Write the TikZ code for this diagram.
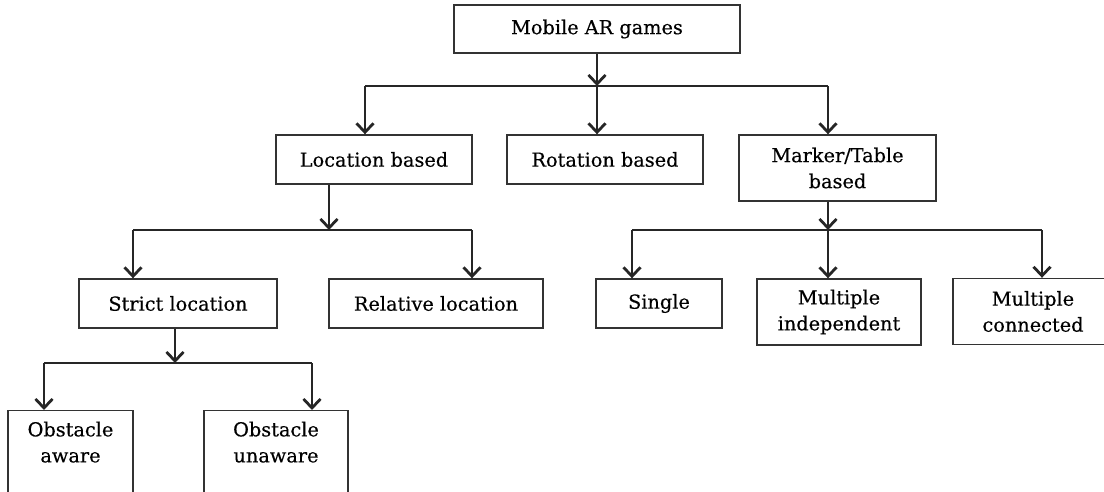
\documentclass[tikz,border=0pt]{standalone}
\usepackage{fontspec}
\setmainfont[FakeBold=0.4]{DejaVu Serif}
\usetikzlibrary{arrows.meta}
\begin{document}
\begin{tikzpicture}[x=1pt,y=-1pt,
  box/.style={draw=black!80, line width=1.4pt, inner sep=0pt, align=center,
    font=\fontsize{19.3}{26}\selectfont},
  link/.style={draw=black!85, line width=1.3pt},
  arr/.style={link, -{Straight Barb[length=9pt,width=17pt,line width=2.8pt]}}]
\useasboundingbox (0,0) rectangle (1104,491);

% level 0
\node[box, minimum width=286pt, minimum height=48pt] (root) at (597,29) {Mobile AR games};

% level 1
\node[box, minimum width=196pt, minimum height=49pt] (loc)  at (374,159.5) {Location based};
\node[box, minimum width=196pt, minimum height=49pt] (rot)  at (605,159.5) {Rotation based};
\node[box, minimum width=197pt, minimum height=66pt] (mark) at (837.5,168) {Marker/Table\\based};

% level 2
\node[box, minimum width=198pt, minimum height=49pt] (strict) at (178,303.5) {Strict location};
\node[box, minimum width=214pt, minimum height=49pt] (rel)    at (436,303.5) {Relative location};
\node[box, minimum width=126pt, minimum height=49pt] (single) at (659,303.5) {Single};
\node[box, minimum width=164pt, minimum height=66pt] (mind)   at (839,312) {Multiple\\independent};
\node[box, minimum width=160pt, minimum height=66pt] (mconn)  at (1033,311.5) {Multiple\\connected};

% level 3 (boxes run past the lower edge, text sits at the top)
\node[box, anchor=north, minimum width=125pt, text depth=62pt, inner ysep=11pt] (oaware)   at (70.5,410) {Obstacle\\aware};
\node[box, anchor=north, minimum width=144pt, text depth=62pt, inner ysep=11pt] (ounaware) at (276,410) {Obstacle\\unaware};

% junction points
\coordinate (j0) at (597,86);
\coordinate (j0l) at (365,86);
\coordinate (j0r) at (828,86);
\coordinate (j1) at (329,230);
\coordinate (j1l) at (133,230);
\coordinate (j1r) at (472,230);
\coordinate (j2) at (175,363);
\coordinate (j2l) at (44,363);
\coordinate (j2r) at (312,363);
\coordinate (j3) at (828,230);
\coordinate (j3l) at (632,230);
\coordinate (j3r) at (1042,230);

% root -> level 1
\draw[arr] (root.south) -- (j0);
\draw[link] (j0l) -- (j0r);
\draw[arr] (j0l) -- (j0l |- loc.north);
\draw[arr] (j0) -- (j0 |- rot.north);
\draw[arr] (j0r) -- (j0r |- mark.north);

% location based -> level 2
\draw[arr] (j1 |- loc.south) -- (j1);
\draw[link] (j1l) -- (j1r);
\draw[arr] (j1l) -- (j1l |- strict.north);
\draw[arr] (j1r) -- (j1r |- rel.north);

% strict location -> level 3
\draw[arr] (j2 |- strict.south) -- (j2);
\draw[link] (j2l) -- (j2r);
\draw[arr] (j2l) -- (j2l |- oaware.north);
\draw[arr] (j2r) -- (j2r |- ounaware.north);

% marker/table based -> level 2
\draw[arr] (j3 |- mark.south) -- (j3);
\draw[link] (j3l) -- (j3r);
\draw[arr] (j3l) -- (j3l |- single.north);
\draw[arr] (j3) -- (j3 |- mind.north);
\draw[arr] (j3r) -- (j3r |- mconn.north);
\end{tikzpicture}
\end{document}
